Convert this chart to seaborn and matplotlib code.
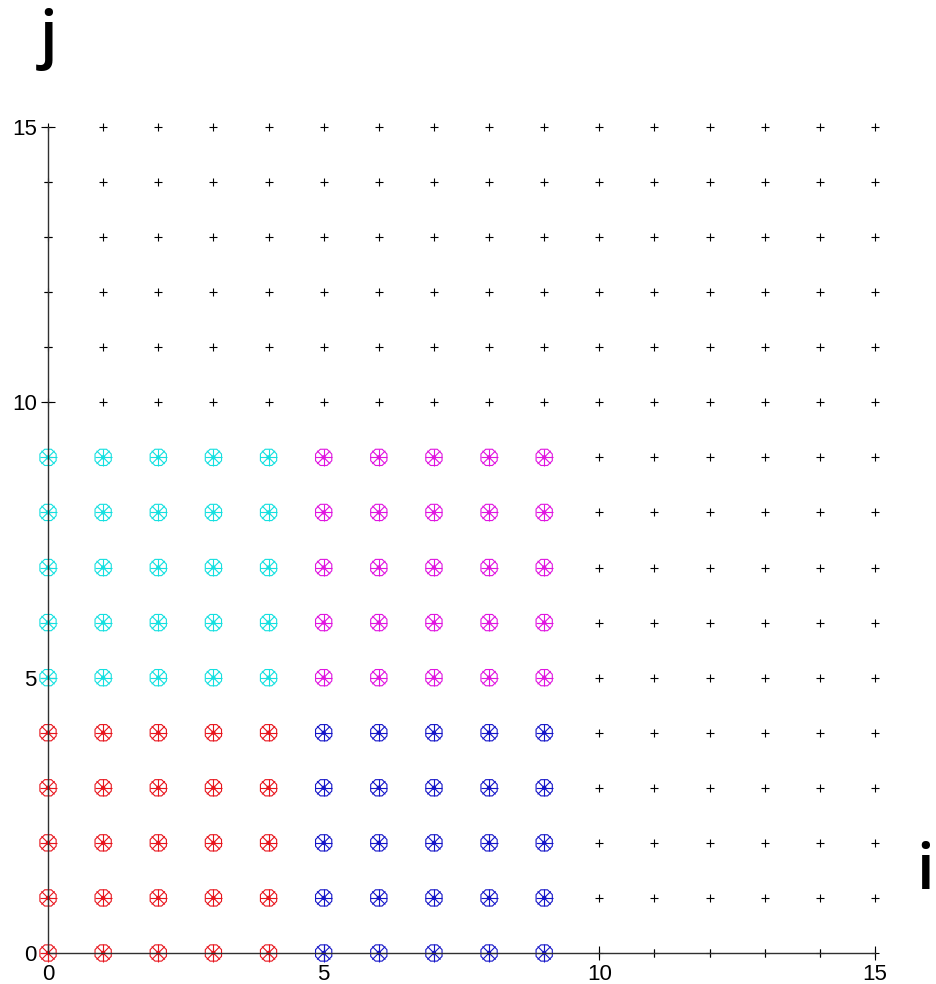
import numpy as np
import pandas as pd
import matplotlib
matplotlib.use("Agg")
import matplotlib.pyplot as plt
import seaborn as sns

# Grid and block layout
i_values = [0, 1, 2, 3, 4, 5, 6, 7, 8, 9, 10, 11, 12, 13, 14, 15]
j_values = [0, 1, 2, 3, 4, 5, 6, 7, 8, 9, 10, 11, 12, 13, 14, 15]
block_names = ["red", "blue", "cyan", "magenta"]
block_i = [[0, 1, 2, 3, 4], [5, 6, 7, 8, 9], [0, 1, 2, 3, 4], [5, 6, 7, 8, 9]]
block_j = [[0, 1, 2, 3, 4], [0, 1, 2, 3, 4], [5, 6, 7, 8, 9], [5, 6, 7, 8, 9]]
block_colors = ["#e8141c", "#1414c8", "#14e0e0", "#e014e0"]
ticks_major = [0, 5, 10, 15]

# Build tables
rows = []
for name, bi, bj in zip(block_names, block_i, block_j):
    for a in bi:
        for b in bj:
            rows.append({"i": a, "j": b, "block": name})
blocks = pd.DataFrame(rows)
taken = set(zip(blocks["i"], blocks["j"]))
rest = pd.DataFrame([{"i": a, "j": b} for a in i_values for b in j_values
                     if (a, b) not in taken])

sns.set_style("white")
plt.rcParams['font.family'] = ['Liberation Sans', 'DejaVu Sans']
plt.rcParams['text.color'] = 'black'

fig = plt.figure(figsize=(9.36, 9.84), dpi=100)
ax = fig.add_axes([0.0513, 0.0315, 0.8835, 0.8395])

palette = dict(zip(block_names, block_colors))

# black plus marks for the rest of the grid
sns.scatterplot(data=rest, x="i", y="j", marker="+", color="black", s=40,
                linewidth=0.8, ax=ax, clip_on=False, legend=False)

# coloured points: octagon outline with 8 spokes
for mk, sz in [("8", 160), ("+", 150), ("x", 90)]:
    sns.scatterplot(data=blocks, x="i", y="j", hue="block", palette=palette,
                    marker=mk, s=sz, linewidth=0.8, ax=ax, clip_on=False,
                    legend=False)
    coll = ax.collections[-1]
    if mk == "8":
        coll.set_edgecolor(coll.get_facecolor())
        coll.set_facecolor("none")
sns.scatterplot(data=blocks, x="i", y="j", hue="block", palette=palette,
                marker="o", s=10, linewidth=0, ax=ax, clip_on=False, legend=False)

ax.set_xlim(0, 15)
ax.set_ylim(0, 15)
ax.set_xticks(ticks_major)
ax.set_yticks(ticks_major)
ax.set_xticks(i_values, minor=True)
ax.set_yticks(j_values, minor=True)
ax.tick_params(which="major", direction="inout", length=10, width=0.8,
               labelsize=16, pad=3, colors="black", bottom=True, left=True)
ax.tick_params(which="minor", direction="inout", length=6, width=0.8,
               bottom=True, left=True)
ax.set_xlabel("")
ax.set_ylabel("")
sns.despine(ax=ax)
for sp in ["left", "bottom"]:
    ax.spines[sp].set_color("#303030")
    ax.spines[sp].set_linewidth(1.0)

fig.text(0.052, 0.960, "j", fontsize=46, fontweight="semibold", color="black",
         family=["Open Sans", "DejaVu Sans"], ha="center", va="center")
fig.text(0.988, 0.113, "i", fontsize=46, fontweight="semibold", color="black",
         family=["Open Sans", "DejaVu Sans"], ha="center", va="center")

fig.savefig("out.png", dpi=100)
